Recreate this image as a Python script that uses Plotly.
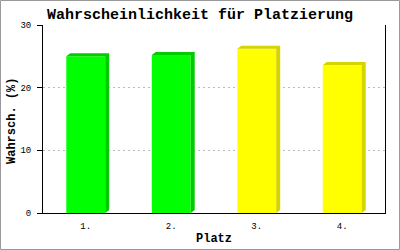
import plotly.graph_objects as go

categories = ["1.", "2.", "3.", "4."]
values = [25.0, 25.2, 26.2, 23.6]
front_colors = ["#00FF00", "#00FF00", "#FFFF00", "#FFFF00"]
side_colors = ["#00CC00", "#00CC00", "#D4D400", "#D4D400"]
y_ticks = [0, 10, 20, 30]

W, H = 400, 250
L, R, T, B = 43, 15, 25, 37
pw, ph = W - L - R, H - T - B
xr = [-0.5, len(categories) - 0.5]
yr = [0, 30]
bw = 0.455
dx = 4 * (xr[1] - xr[0]) / pw
dy = 3 * (yr[1] - yr[0]) / ph

fig = go.Figure()
xs = list(range(len(categories)))
for i, v in enumerate(values):
    x0, x1 = xs[i] - bw / 2, xs[i] + bw / 2
    px = [x0, x0 + dx, x1 + dx, x1 + dx, x1, x1, x0]
    py = [v, v + dy, v + dy, dy, 0, v, v]
    fig.add_trace(go.Scatter(x=px, y=py, fill="toself", fillcolor=side_colors[i],
                             mode="lines", line=dict(width=0), hoverinfo="skip",
                             showlegend=False))
fig.add_trace(go.Bar(x=xs, y=values, width=bw, marker=dict(color=front_colors, line=dict(width=0)),
                     showlegend=False))

mono = "Liberation Mono"
fig.update_layout(
    width=W, height=H,
    margin=dict(l=L, r=R, t=T, b=B, autoexpand=False),
    paper_bgcolor="white", plot_bgcolor="white",
    title=dict(text="<b>Wahrscheinlichkeit für Platzierung</b>", x=0.5, xanchor="center",
               xref="container", y=1 - 13.5 / H, yref="container", yanchor="middle",
               font=dict(family=mono, size=15, color="black")),
    xaxis=dict(range=xr, tickvals=xs, ticktext=categories, showgrid=False, zeroline=False,
               showline=True, linecolor="black", linewidth=1, ticks="", automargin=False,
               ticklabelstandoff=4,
               tickfont=dict(family=mono, size=9, color="black")),
    yaxis=dict(range=yr, tickvals=y_ticks, showgrid=True, gridcolor="#BBBBBB",
               griddash="2px,3px", automargin=False,
               gridwidth=1, zeroline=False, showline=True, linecolor="black", linewidth=1,
               mirror=True, ticks="outside", ticklen=5, tickcolor="black",
               ticklabelstandoff=4,
               tickfont=dict(family=mono, size=9, color="black")),
    annotations=[
        dict(text="<b>Platz</b>", xref="paper", yref="paper", x=(214 - L) / pw,
             y=-(239 - T - ph) / ph, xanchor="center", yanchor="middle", showarrow=False,
             font=dict(family=mono, size=12, color="black")),
        dict(text="<b>Wahrsch. (%)</b>", xref="paper", yref="paper", x=-(L - 12) / pw,
             y=1 - (121 - T) / ph, xanchor="center", yanchor="middle", showarrow=False,
             textangle=-90, font=dict(family=mono, size=12, color="black")),
    ],
    shapes=[dict(type="rect", xref="paper", yref="paper",
                 x0=-L / pw + 0.5 / pw, x1=1 + R / pw - 0.5 / pw,
                 y0=-B / ph + 0.5 / ph, y1=1 + T / ph - 0.5 / ph,
                 line=dict(color="#999999", width=1), layer="below")],
)
fig.write_html("out.html")
